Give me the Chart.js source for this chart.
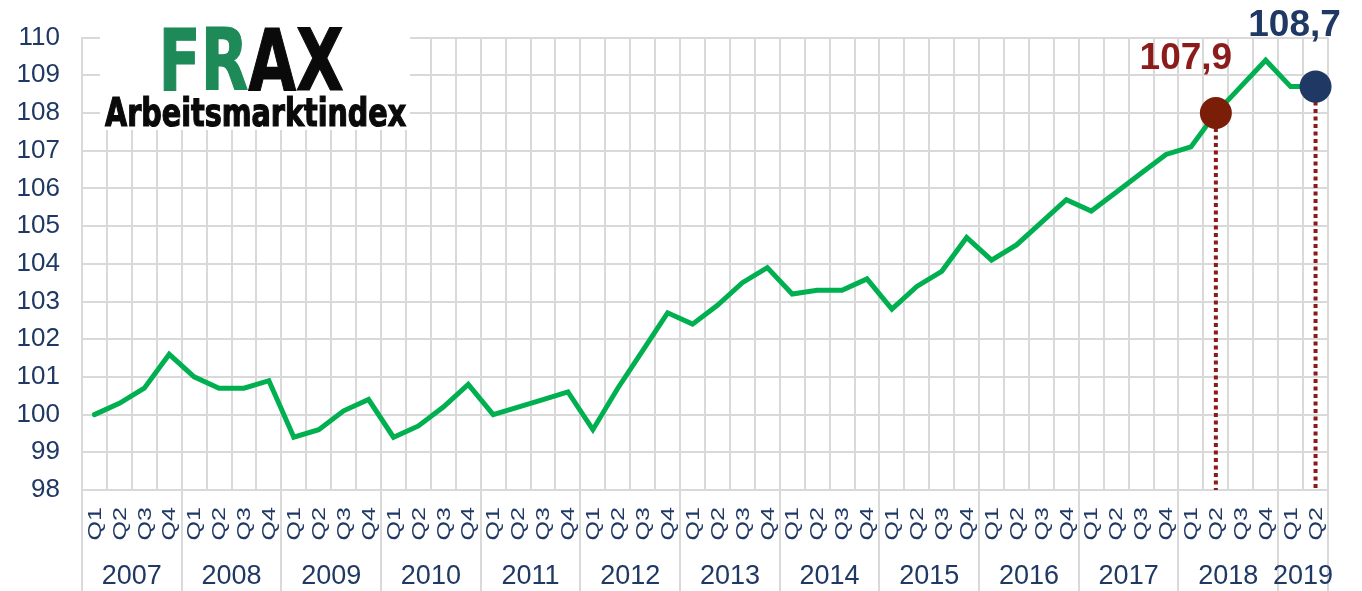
<!DOCTYPE html>
<html><head><meta charset="utf-8">
<script src="https://cdn.jsdelivr.net/npm/chart.js@4/dist/chart.umd.min.js"></script>
<style>html,body{margin:0;padding:0;background:#fff;overflow:hidden}</style>
</head><body>
<canvas id="c" width="1362" height="591"></canvas>
<script>
// ---- data ----
const years = ['2007','2008','2009','2010','2011','2012','2013','2014','2015','2016','2017','2018','2019'];
const quartersPerYear = [4,4,4,4,4,4,4,4,4,4,4,4,2];
const quarterNames = ['Q1','Q2','Q3','Q4'];
const frax = [
  100.0, 100.3, 100.7, 101.6, 101.0, 100.7, 100.7, 100.9,
   99.4,  99.6, 100.1, 100.4,  99.4,  99.7, 100.2, 100.8,
  100.0, 100.2, 100.4, 100.6,  99.6, 100.7, 101.7, 102.7,
  102.4, 102.9, 103.5, 103.9, 103.2, 103.3, 103.3, 103.6,
  102.8, 103.4, 103.8, 104.7, 104.1, 104.5, 105.1, 105.7,
  105.4, 105.9, 106.4, 106.9, 107.1, 108.0, 108.7, 109.4,
  108.7, 108.7
];
const yMin = 98, yMax = 110, yStep = 1;
const markerIdx = [45, 49];
const markerText = ['107,9', '108,7'];
const logoTop = 'FRAX';
const logoSub = 'Arbeitsmarktindex';

// ---- build categories ----
const categories = [];
const quarterLabels = [];
const yearGroups = [];
years.forEach((yr, k) => {
  const start = categories.length;
  for (let q = 0; q < quartersPerYear[k]; q++) {
    categories.push(quarterNames[q] + ' ' + yr);
    quarterLabels.push(quarterNames[q]);
  }
  yearGroups.push({label: yr, start, end: categories.length - 1});
});

// ---- styles ----
const NAVY = '#1F3864';
const GRID = '#D9D9D9';
const GREEN = '#00B050';
const DROP = '#8B1A1A';
const markerFill = ['#7A1E08', '#1F3864'];
const markerTextColor = ['#8C1B1B', '#1F3864'];
const markerTextOffset = [{dx: -30, dy: -44}, {dx: -21, dy: -51}];
const FONT = '"Liberation Sans", Arial, sans-serif';
const NARROW = '"Liberation Sans Narrow", "DejaVu Sans Condensed", "Liberation Sans", sans-serif';

const markerData = categories.map((_, i) => markerIdx.includes(i) ? frax[i] : null);
const markerColors = categories.map((_, i) => {
  const k = markerIdx.indexOf(i); return k >= 0 ? markerFill[k] : 'rgba(0,0,0,0)';
});

function fitText(ctx, parts, x0, x1, baseline, capH, font) {
  const full = parts.map(p => p.t).join('');
  ctx.font = 'bold 100px ' + font;
  const m0 = ctx.measureText(parts[0].t.charAt(0));
  const size = 100 * capH / m0.actualBoundingBoxAscent;
  ctx.font = 'bold ' + size + 'px ' + font;
  const m = ctx.measureText(full);
  const bw = m.actualBoundingBoxLeft + m.actualBoundingBoxRight;
  const sx = (x1 - x0) / bw;
  ctx.save();
  ctx.translate(x0 + m.actualBoundingBoxLeft * sx, baseline);
  ctx.scale(sx, 1);
  ctx.textAlign = 'left';
  ctx.textBaseline = 'alphabetic';
  let cx = 0;
  for (const p of parts) {
    ctx.fillStyle = p.c;
    ctx.fillText(p.t, cx, 0);
    ctx.strokeStyle = p.c;
    ctx.lineWidth = 1.2;
    ctx.strokeText(p.t, cx, 0);
    cx += ctx.measureText(p.t).width;
  }
  ctx.restore();
}

const overlay = {
  id: 'overlay',
  beforeDatasetsDraw(chart) {
    const {ctx, chartArea: ca, scales: {x, y}} = chart;
    ctx.save();
    // logo box
    ctx.fillStyle = '#fff';
    ctx.fillRect(100, 18, 310, 112);
    fitText(ctx, [{t: logoTop.slice(0, 2), c: '#1E8A57'}, {t: logoTop.slice(2), c: '#0A0A0A'}], 164, 343, 90, 63, NARROW);
    fitText(ctx, [{t: logoSub, c: '#0A0A0A'}], 105, 406, 126, 28, NARROW);
    // drop lines
    ctx.strokeStyle = DROP;
    ctx.lineWidth = 4;
    ctx.setLineDash([4, 3.5]);
    markerIdx.forEach(i => {
      const px = x.getPixelForValue(i), py = y.getPixelForValue(frax[i]);
      ctx.beginPath(); ctx.moveTo(px, py); ctx.lineTo(px, ca.bottom); ctx.stroke();
    });
    ctx.restore();
  },
  afterDatasetsDraw(chart) {
    const {ctx, scales: {x, y}} = chart;
    ctx.save();
    ctx.font = 'bold 37px ' + FONT;
    ctx.textAlign = 'center';
    ctx.textBaseline = 'alphabetic';
    markerIdx.forEach((i, k) => {
      const px = x.getPixelForValue(i), py = y.getPixelForValue(frax[i]);
      ctx.fillStyle = markerTextColor[k];
      ctx.fillText(markerText[k], px + markerTextOffset[k].dx, py + markerTextOffset[k].dy);
    });
    ctx.restore();
  },
  afterDraw(chart) {
    const {ctx, chartArea: ca, scales: {x}} = chart;
    const H = chart.height;
    const half = (x.getPixelForValue(1) - x.getPixelForValue(0)) / 2;
    ctx.save();
    // year separators
    ctx.strokeStyle = GRID;
    ctx.lineWidth = 2;
    yearGroups.forEach((g, k) => {
      const xl = Math.round(x.getPixelForValue(g.start) - half);
      ctx.beginPath(); ctx.moveTo(xl, ca.bottom); ctx.lineTo(xl, H); ctx.stroke();
      if (k === yearGroups.length - 1) {
        const xr = Math.round(x.getPixelForValue(g.end) + half);
        ctx.beginPath(); ctx.moveTo(xr, ca.bottom); ctx.lineTo(xr, H); ctx.stroke();
      }
    });
    // quarter labels
    ctx.fillStyle = NAVY;
    ctx.font = '19px ' + FONT;
    ctx.textAlign = 'right';
    ctx.textBaseline = 'middle';
    quarterLabels.forEach((q, i) => {
      const px = x.getPixelForValue(i);
      ctx.save();
      ctx.translate(px + 1, ca.bottom + 17);
      ctx.rotate(-Math.PI / 2);
      ctx.scale(1.32, 1);
      ctx.fillText(q, 0, 0);
      ctx.restore();
    });
    // year labels
    ctx.font = '27px ' + FONT;
    ctx.textAlign = 'center';
    ctx.textBaseline = 'alphabetic';
    yearGroups.forEach(g => {
      const cx = (x.getPixelForValue(g.start) + x.getPixelForValue(g.end)) / 2;
      ctx.fillText(g.label, cx, ca.bottom + 94);
    });
    ctx.restore();
  }
};

new Chart(document.getElementById('c'), {
  type: 'line',
  data: {
    labels: categories,
    datasets: [
      {
        data: markerData,
        showLine: false,
        pointRadius: 16,
        pointHoverRadius: 16,
        pointBorderWidth: 0,
        pointBackgroundColor: markerColors,
        pointBorderColor: markerColors,
        order: 0
      },
      {
        data: frax,
        borderColor: GREEN,
        borderWidth: 5,
        pointRadius: 0,
        tension: 0,
        fill: false,
        borderCapStyle: 'round',
        order: 1
      }
    ]
  },
  options: {
    responsive: false,
    animation: false,
    devicePixelRatio: 1,
    layout: {padding: {left: 0, right: 34, top: 36, bottom: 101}},
    plugins: {legend: {display: false}, tooltip: {enabled: false}},
    scales: {
      x: {
        type: 'category',
        offset: true,
        grid: {offset: true, color: GRID, lineWidth: 2, drawTicks: false},
        border: {color: GRID, width: 2},
        ticks: {display: false},
        afterFit: s => { s.height = 0; }
      },
      y: {
        min: yMin, max: yMax,
        grid: {color: GRID, lineWidth: 2, drawTicks: false},
        border: {color: GRID, width: 2},
        ticks: {stepSize: yStep, color: NAVY, font: {family: FONT, size: 26}, padding: 22},
        afterFit: s => { s.width = 82; }
      }
    }
  },
  plugins: [overlay]
});
</script>
</body></html>
